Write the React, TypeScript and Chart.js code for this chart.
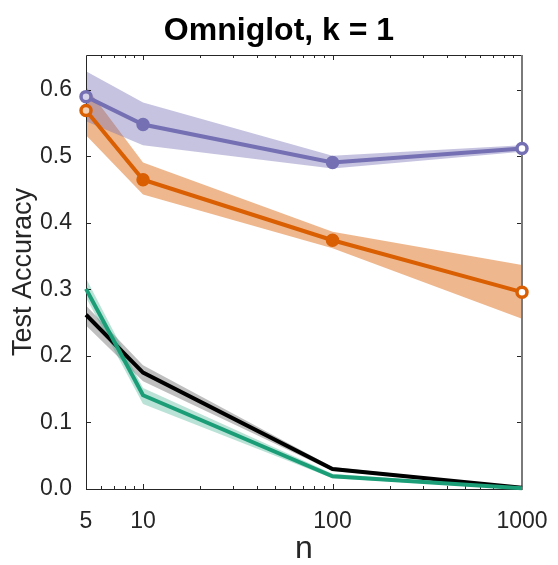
import React, { useEffect, useRef } from "react";
import { Chart, registerables } from "chart.js";

Chart.register(...registerables);

const nValues = [5, 10, 100, 1000];

const purpleMean = [0.590, 0.548, 0.491, 0.512];
const purpleUpper = [0.628, 0.581, 0.501, 0.517];
const purpleLower = [0.553, 0.517, 0.482, 0.507];

const orangeMean = [0.569, 0.465, 0.374, 0.296];
const orangeUpper = [0.605, 0.491, 0.387, 0.337];
const orangeLower = [0.532, 0.443, 0.362, 0.256];

const greenMean = [0.301, 0.141, 0.019, 0.001];
const greenUpper = [0.317, 0.152, 0.023, 0.002];
const greenLower = [0.288, 0.128, 0.016, 0.0];

const blackMean = [0.262, 0.175, 0.030, 0.002];
const blackUpper = [0.276, 0.186, 0.033, 0.003];
const blackLower = [0.246, 0.162, 0.027, 0.001];

const xTickLabels = [5, 10, 100, 1000];
const xMinorTicks = [6, 7, 8, 9, 20, 30, 40, 50, 60, 70, 80, 90, 200, 300, 400, 500, 600, 700, 800, 900];
const xMajorTicks = [10, 100];
const yTickValues = [0, 0.1, 0.2, 0.3, 0.4, 0.5, 0.6];

const FONT = "'Liberation Sans', Arial, Helvetica, sans-serif";
const AXIS_COLOR = "#262626";

const pts = (ys: number[]) => nValues.map((x, i) => ({ x, y: ys[i] }));

const bandUpper = (ys: number[]) => ({
  data: pts(ys),
  borderWidth: 0,
  borderColor: "rgba(0,0,0,0)",
  pointRadius: 0,
  pointHoverRadius: 0,
  fill: false,
  order: 20,
});
const bandLower = (ys: number[], color: string) => ({
  data: pts(ys),
  borderWidth: 0,
  borderColor: "rgba(0,0,0,0)",
  backgroundColor: color,
  pointRadius: 0,
  pointHoverRadius: 0,
  fill: "-1",
  order: 20,
});

const framePlugin = {
  id: "matlabFrame",
  beforeDatasetsDraw(chart: any) {
    const { ctx, chartArea, scales } = chart;
    const { left, right, top, bottom } = chartArea;
    const x = scales.x;
    const y = scales.y;
    ctx.save();
    ctx.strokeStyle = AXIS_COLOR;
    ctx.lineWidth = 1;
    ctx.beginPath();
    for (const v of yTickValues) {
      const py = Math.round(y.getPixelForValue(v)) + 0.5;
      ctx.moveTo(left, py);
      ctx.lineTo(left + 5, py);
      ctx.moveTo(right, py);
      ctx.lineTo(right - 5, py);
    }
    for (const v of xMinorTicks) {
      const px = Math.round(x.getPixelForValue(v)) + 0.5;
      ctx.moveTo(px, bottom);
      ctx.lineTo(px, bottom - 3);
      ctx.moveTo(px, top);
      ctx.lineTo(px, top + 3);
    }
    for (const v of xMajorTicks) {
      const px = Math.round(x.getPixelForValue(v)) + 0.5;
      ctx.moveTo(px, bottom);
      ctx.lineTo(px, bottom - 5);
      ctx.moveTo(px, top);
      ctx.lineTo(px, top + 5);
    }
    ctx.stroke();
    ctx.beginPath();
    const l = Math.round(left) + 0.5;
    const t = Math.round(top) + 0.5;
    const b = Math.round(bottom) + 0.5;
    const r = Math.round(right);
    ctx.moveTo(l, t);
    ctx.lineTo(r, t);
    ctx.moveTo(l, t);
    ctx.lineTo(l, b);
    ctx.lineTo(r, b);
    ctx.stroke();
    ctx.beginPath();
    ctx.strokeStyle = "#7a7a7a";
    ctx.lineWidth = 2;
    ctx.moveTo(r, t - 0.5);
    ctx.lineTo(r, b + 0.5);
    ctx.stroke();
    ctx.restore();
  },
};

export default function App() {
  const canvasRef = useRef<HTMLCanvasElement | null>(null);

  useEffect(() => {
    if (!canvasRef.current) return;
    const purple = "#7570b3";
    const orange = "#d95f02";
    const green = "#1b9e77";
    const black = "#000000";

    const chart = new Chart(canvasRef.current, {
      type: "line",
      data: {
        datasets: [
          bandUpper(purpleUpper) as any,
          bandLower(purpleLower, "rgba(117,112,179,0.42)"),
          bandUpper(orangeUpper),
          bandLower(orangeLower, "rgba(217,95,2,0.45)"),
          bandUpper(greenUpper),
          bandLower(greenLower, "rgba(27,158,119,0.3)"),
          bandUpper(blackUpper),
          bandLower(blackLower, "rgba(0,0,0,0.25)"),
          {
            data: pts(blackMean),
            borderColor: black,
            borderWidth: 4,
            pointRadius: 0,
            fill: false,
            clip: false,
            order: 4,
          },
          {
            data: pts(greenMean),
            borderColor: green,
            borderWidth: 4,
            pointRadius: 0,
            fill: false,
            clip: false,
            order: 3,
          },
          {
            data: pts(orangeMean),
            borderColor: orange,
            borderWidth: 4,
            pointRadius: 5,
            pointBorderWidth: 3.5,
            pointBorderColor: orange,
            pointBackgroundColor: ["#f3cfb3", orange, orange, "#ffffff"],
            fill: false,
            clip: false,
            order: 2,
          },
          {
            data: pts(purpleMean),
            borderColor: purple,
            borderWidth: 4,
            pointRadius: 5,
            pointBorderWidth: 3.5,
            pointBorderColor: purple,
            pointBackgroundColor: ["#d6d4ea", purple, purple, "#ffffff"],
            fill: false,
            clip: false,
            order: 1,
          },
        ],
      },
      options: {
        animation: false,
        responsive: false,
        maintainAspectRatio: false,
        events: [],
        layout: { padding: 0 },
        elements: { line: { tension: 0 } },
        plugins: {
          legend: { display: false },
          tooltip: { enabled: false },
          filler: { drawTime: "beforeDatasetsDraw" },
          title: {
            display: true,
            text: "Omniglot, k = 1",
            color: "#000000",
            font: { family: FONT, size: 32, weight: "bold", lineHeight: 1.2 },
            padding: { top: 12, bottom: 4.6 },
          },
        },
        scales: {
          x: {
            type: "logarithmic",
            min: 5,
            max: 1000,
            grid: { display: false },
            border: { display: false },
            afterBuildTicks: (scale: any) => {
              scale.ticks = xTickLabels.map((v) => ({ value: v }));
            },
            afterFit: (scale: any) => {
              scale.height = 76;
              scale.paddingRight = 36;
            },
            ticks: {
              autoSkip: false,
              maxRotation: 0,
              padding: 11,
              color: AXIS_COLOR,
              font: { family: FONT, size: 23, lineHeight: 1.2 },
              callback: (v: any) => String(v),
            },
            title: {
              display: true,
              text: "n",
              color: AXIS_COLOR,
              font: { family: FONT, size: 32, lineHeight: 1 },
              padding: { top: 0, bottom: 0 },
            },
          },
          y: {
            type: "linear",
            min: 0,
            max: 0.6526,
            grid: { display: false },
            border: { display: false },
            afterBuildTicks: (scale: any) => {
              scale.ticks = yTickValues.map((v) => ({ value: v }));
            },
            afterFit: (scale: any) => {
              scale.width = 86;
            },
            ticks: {
              autoSkip: false,
              padding: 6,
              color: AXIS_COLOR,
              font: { family: FONT, size: 23, lineHeight: 1.2 },
              callback: (v: any) => Number(v).toFixed(1),
            },
            title: {
              display: true,
              text: "Test Accuracy",
              color: AXIS_COLOR,
              font: { family: FONT, size: 27, lineHeight: 1.2 },
              padding: { top: 7.5, bottom: 0 },
            },
          },
        },
      },
      plugins: [framePlugin],
    } as any);

    return () => chart.destroy();
  }, []);

  return (
    <div style={{ position: "absolute", left: 0, top: 0, width: 558, height: 565 }}>
      <canvas ref={canvasRef} width={558} height={565} style={{ display: "block" }} />
    </div>
  );
}
